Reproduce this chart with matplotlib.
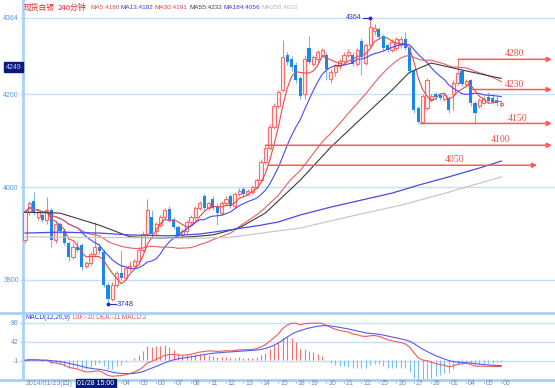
import matplotlib
matplotlib.use('Agg')
import matplotlib.pyplot as plt
from matplotlib.lines import Line2D
import matplotlib.transforms as mtransforms
import numpy as np
import pandas as pd

plt.rcParams['font.family'] = ['Liberation Sans', 'Noto Sans CJK SC', 'DejaVu Sans']

# ---------------- data (240-minute bars) ----------------
opens = [3886, 3946, 3970, 3936, 3940, 3929, 3951, 3886, 3920, 3905,
         3880, 3850, 3872, 3875, 3830, 3836, 3855, 3872, 3860, 3790,
         3760, 3790, 3815, 3805, 3825, 3830, 3840, 3865, 3900, 3935,
         3905, 3918, 3935, 3952, 3930, 3915, 3897, 3905, 3925, 3935,
         3955, 3980, 3955, 3975, 3960, 3945, 3965, 3980, 3960, 3985,
         3995, 3985, 3990, 4000, 4015, 4055, 4085, 4130, 4175, 4210,
         4284, 4275, 4262, 4235, 4200, 4300, 4265, 4275, 4285, 4285,
         4232, 4248, 4260, 4272, 4285, 4285, 4265, 4315, 4268, 4305,
         4335, 4340, 4325, 4305, 4295, 4300, 4305, 4318, 4300, 4250,
         4170, 4140, 4170, 4190, 4200, 4198, 4190, 4192, 4200, 4225,
         4250, 4222, 4230, 4182, 4175, 4182, 4193, 4192, 4188, 4176]
highs = [3950, 3970, 3990, 3950, 3945, 3978, 3955, 3925, 3925, 3910,
         3885, 3880, 3885, 3880, 3840, 3860, 3925, 3880, 3866, 3795,
         3795, 3820, 3865, 3830, 3840, 3845, 3870, 3905, 3974, 3950,
         3925, 3940, 3955, 3960, 3935, 3918, 3910, 3930, 3940, 3960,
         3970, 3985, 3970, 3980, 3965, 3970, 3980, 3985, 3990, 3998,
         4000, 3996, 4005, 4020, 4060, 4090, 4135, 4180, 4210, 4316,
         4290, 4282, 4270, 4240, 4285, 4325, 4285, 4295, 4300, 4290,
         4255, 4265, 4275, 4290, 4298, 4290, 4300, 4320, 4310, 4364,
         4352, 4345, 4330, 4310, 4318, 4322, 4325, 4333, 4305, 4255,
         4175, 4200, 4235, 4200, 4205, 4203, 4202, 4196, 4230, 4275,
         4255, 4232, 4232, 4185, 4192, 4195, 4205, 4200, 4195, 4186]
lows = [3880, 3940, 3940, 3930, 3925, 3920, 3871, 3880, 3900, 3875,
        3840, 3845, 3860, 3822, 3826, 3832, 3850, 3855, 3785, 3748,
        3755, 3785, 3800, 3800, 3820, 3825, 3835, 3860, 3895, 3895,
        3895, 3915, 3930, 3925, 3910, 3890, 3890, 3900, 3920, 3930,
        3950, 3950, 3950, 3950, 3918, 3940, 3960, 3955, 3955, 3980,
        3980, 3982, 3985, 3995, 4010, 4050, 4080, 4125, 4170, 4205,
        4262, 4250, 4225, 4190, 4190, 4265, 4260, 4270, 4280, 4230,
        4225, 4240, 4255, 4268, 4280, 4260, 4260, 4241, 4262, 4300,
        4328, 4318, 4295, 4290, 4290, 4295, 4300, 4295, 4245, 4160,
        4137, 4135, 4165, 4185, 4188, 4188, 4186, 4160, 4165, 4220,
        4218, 4218, 4175, 4137, 4170, 4178, 4180, 4178, 4175, 4172]
closes = [3946, 3965, 3946, 3946, 3929, 3951, 3886, 3920, 3905, 3880,
          3850, 3870, 3865, 3828, 3836, 3855, 3870, 3862, 3790, 3760,
          3790, 3815, 3805, 3825, 3830, 3840, 3865, 3900, 3950, 3900,
          3920, 3935, 3950, 3930, 3915, 3897, 3905, 3925, 3935, 3955,
          3965, 3955, 3965, 3955, 3945, 3965, 3975, 3960, 3985, 3992,
          3985, 3992, 4000, 4015, 4055, 4085, 4130, 4175, 4205, 4280,
          4270, 4258, 4230, 4195, 4275, 4270, 4280, 4290, 4295, 4255,
          4248, 4260, 4272, 4285, 4290, 4265, 4295, 4280, 4305, 4345,
          4342, 4322, 4300, 4295, 4312, 4318, 4318, 4300, 4250, 4165,
          4140, 4195, 4230, 4195, 4193, 4192, 4198, 4165, 4225, 4245,
          4222, 4228, 4180, 4160, 4188, 4190, 4185, 4183, 4180, 4181]

# long moving averages (bar index, price)
ma55_idx = [0, 8, 17, 24, 31, 38, 43, 49, 55, 63, 70, 77, 84, 88, 93, 100, 109]
ma55_val = [3946, 3944, 3918, 3893, 3890, 3893, 3897, 3912, 3944, 4015, 4086,
            4148, 4209, 4247, 4267, 4252, 4234]
ma184_idx = [0, 8, 17, 24, 33, 40, 47, 54, 58, 63, 70, 77, 84, 90, 97, 104, 109]
ma184_val = [3901, 3903, 3901, 3897, 3895, 3899, 3908, 3918, 3925, 3940, 3957,
             3972, 3987, 4004, 4022, 4041, 4056]
ma250_idx = [0, 24, 40, 47, 63, 74, 86, 97, 109]
ma250_val = [3893, 3891, 3890, 3892, 3912, 3936, 3961, 3989, 4022]

# support / resistance arrows
lvl_text = ['4280', '4230', '4150', '4100', '4050']
lvl_price = [4275, 4210, 4137, 4090, 4047]
lvl_start = [99.1, 102.3, 90.4, 55.0, 55.6]
lvl_end = [120.6, 120.6, 120.6, 120.6, 117.2]
lvl_text_x = [112.1, 112.1, 112.8, 108.9, 98.2]

# x-axis day labels (bar index where each day starts)
day_idx = [22, 26, 30, 34, 38, 42, 46, 50, 54, 58, 62, 65, 69, 73, 77, 81, 85,
           89, 93, 97, 101, 105, 109]
day_lbl = ['04', '05', '06', '07', '08', '11', '12', '13', '14', '15', '18', '19',
           '20', '21', '22', '25', '26', '27', '28', '01', '04', '05', '06']

price_ticks = [3800, 4000, 4200, 4364]
macd_ticks = [-1, 42, 86]

header = [('现货白银', '#e8262b'), ('240分钟', '#e8262b'), ('MA5:4180', '#e84a4a'),
          ('MA13:4182', '#3a3aff'), ('MA30:4191', '#e04040'), ('MA55:4233', '#404040'),
          ('MA184:4056', '#3a3ae0'), ('MA250:4023', '#b8b8b8')]

# ---------------- figure ----------------
W, H = 555, 388
fig = plt.figure(figsize=(W / 100, H / 100), dpi=100)
fig.patch.set_facecolor('white')
ax = fig.add_axes([23 / W, 1 - 312 / H, 1 - 23 / W, 312 / H])
axm = fig.add_axes([23 / W, 1 - 379 / H, 1 - 23 / W, 66 / H], sharex=ax)

n = len(closes)
x = np.arange(n)
o = np.array(opens); h = np.array(highs); l = np.array(lows); c = np.array(closes)
up = c >= o

GRID = '#c6e0fb'
AXC = '#a9d0f8'
TXT = '#4f98e8'
DTXT = '#6a8ec8'

for a in (ax, axm):
    for s in a.spines.values():
        s.set_visible(False)
    a.spines['left'].set_visible(True)
    a.spines['left'].set_color(AXC)
    a.spines['left'].set_linewidth(2)
    a.set_facecolor('white')

# grid lines
for p in price_ticks:
    ax.axhline(p, color=GRID, lw=1, zorder=0)
for p in macd_ticks:
    axm.axhline(p, color=GRID, lw=1, zorder=0)

# candles
w = 0.72
ax.vlines(x[up], l[up], h[up], color='#ff7a7a', lw=0.8, zorder=2)
ax.vlines(x[~up], l[~up], h[~up], color='#7ab8f5', lw=0.8, zorder=2)
ax.bar(x[up], c[up] - o[up], bottom=o[up], width=w, facecolor='#fff0f0',
       edgecolor='#ff6b6b', lw=0.8, zorder=3)
ax.bar(x[~up], o[~up] - c[~up], bottom=c[~up], width=w, color='#1a86f0',
       lw=0, zorder=3)

# moving averages
cs = pd.Series(c, dtype=float)
ax.plot(x, cs.rolling(5, min_periods=1).mean(), color='#f04848', lw=0.8, zorder=4)
ax.plot(x, cs.rolling(13, min_periods=1).mean(), color='#4848ff', lw=0.8, zorder=4)
ax.plot(x, cs.rolling(30, min_periods=1).mean(), color='#e86060', lw=0.8, zorder=4)
ax.plot(ma55_idx, ma55_val, color='#3c3c3c', lw=0.8, zorder=4)
ax.plot(ma184_idx, ma184_val, color='#4a4ae6', lw=0.9, zorder=4)
ax.plot(ma250_idx, ma250_val, color='#c8c8c8', lw=0.9, zorder=4)

# level arrows
for t, p, s, e, tx in zip(lvl_text, lvl_price, lvl_start, lvl_end, lvl_text_x):
    ax.annotate('', xy=(e, p), xytext=(s, p),
                arrowprops=dict(arrowstyle='-|>', color='#ff5a5a', lw=1.1,
                                mutation_scale=7, shrinkA=0, shrinkB=0), zorder=5)
    ax.text(tx, p + 2, t, color='#f05050', fontsize=7, family='Liberation Serif',
            ha='center', va='bottom', zorder=5)

# high / low annotations
hi = int(np.argmax(h)); lo = int(np.argmin(l))
ax.plot([hi - 1.7, hi], [h[hi], h[hi]], color='#2a2ad8', lw=0.8, zorder=6)
ax.plot([hi], [h[hi]], 'o', color='#2a2ad8', ms=1.8, zorder=6)
ax.text(hi - 1.9, h[hi], f'{h[hi]:.0f}', color='#3434d8', fontsize=5,
        ha='right', va='center', zorder=6)
ax.plot([lo, lo + 1.8], [l[lo], l[lo]], color='#2a2ad8', lw=0.8, zorder=6)
ax.plot([lo], [l[lo]], 'o', color='#2a2ad8', ms=1.8, zorder=6)
ax.text(lo + 2.0, l[lo], f'{l[lo]:.0f}', color='#3434d8', fontsize=5.5,
        ha='left', va='center', zorder=6)

# axes limits
ax.set_xlim(-0.46, 121.3)
ax.set_ylim(3731.1, 4402.7)
ax.set_yticks(price_ticks)
ax.set_yticklabels([str(p) for p in price_ticks])
ax.tick_params(axis='y', colors=AXC, labelcolor=TXT, labelsize=5, length=2, pad=1)
ax.tick_params(axis='x', bottom=False, labelbottom=False)

# current price box
ax.annotate('4249', xy=(0, 4258), xycoords=('axes fraction', 'data'),
            xytext=(-1, 0), textcoords='offset points', ha='right', va='center',
            fontsize=5, color='#c8c8ff',
            bbox=dict(boxstyle='square,pad=0.25', fc='#0a1a80', ec='#0a1a80'))

# header
hx = 23.5
fig.canvas.draw()
for txt, col in header:
    is_cjk = any(ord(ch) > 0x2E80 for ch in txt)
    fs = 5.6 if is_cjk else 4.6
    t = fig.text(hx / W, 1 - 7.5 / H, txt, color=col, fontsize=fs, va='center', ha='left',
                 family=['Noto Sans CJK SC', 'Liberation Sans'] if is_cjk else 'Liberation Sans')
    bb = t.get_window_extent(renderer=fig.canvas.get_renderer())
    hx = bb.x1 + (3.5 if is_cjk else 1.3)

# ---------------- MACD ----------------
ema12 = cs.ewm(span=12, adjust=False).mean()
ema26 = cs.ewm(span=26, adjust=False).mean()
dif = ema12 - ema26
dea = dif.ewm(span=9, adjust=False).mean()
hist = 2 * (dif - dea)
pos = (hist >= 0).to_numpy()
hv = hist.to_numpy()
axm.vlines(x[pos], 0, hv[pos], color='#ff6e6e', lw=0.8, zorder=2)
axm.vlines(x[~pos], 0, hv[~pos], color='#7cbcf7', lw=0.8, zorder=2)
axm.plot(x, dif, color='#f05a5a', lw=0.8, zorder=3)
axm.plot(x, dea, color='#5a5af5', lw=0.8, zorder=3)
axm.set_ylim(-42.9, 108.2)
axm.set_yticks(macd_ticks)
axm.set_yticklabels([str(t) for t in macd_ticks])
axm.tick_params(axis='y', colors=AXC, labelcolor=TXT, labelsize=5, length=2, pad=1)
axm.tick_params(axis='x', bottom=False, labelbottom=False)
axm.text(0.2, 106, 'MACD(12,26,9)', color='#3434c8', fontsize=4.7, va='top', ha='left')
axm.text(10.9, 106, 'DIF:-10 DEA:-11 MACD:2', color='#e85050', fontsize=4.7,
         va='top', ha='left')

# day labels (bottom row)
trans = mtransforms.blended_transform_factory(axm.transData, fig.transFigure)
for di, dl in zip(day_idx, day_lbl):
    fig.add_artist(Line2D([di, di], [1 - 380 / H, 1 - 383 / H], transform=trans,
                          color=AXC, lw=0.8))
    fig.text(di + 0.4, 1 - 383.5 / H, dl, transform=trans, color=DTXT, fontsize=5,
             ha='left', va='center')
fig.text(0.2, 1 - 383.5 / H, '2014/01/23(四)', transform=trans, color=DTXT,
         fontsize=5, ha='left', va='center', family=['Liberation Sans', 'Noto Sans CJK SC'])
fig.text(16.2, 1 - 383.5 / H, '01/28 15:00', transform=trans, color='white',
         fontsize=5, ha='center', va='center',
         bbox=dict(boxstyle='square,pad=0.2', fc='#0a1a80', ec='#0a1a80'))

# panel separators
for yy in (312.5, 379.5):
    fig.add_artist(Line2D([0, 1], [1 - yy / H, 1 - yy / H], transform=fig.transFigure,
                          color=AXC, lw=2))

fig.savefig('out.png', dpi=100)
